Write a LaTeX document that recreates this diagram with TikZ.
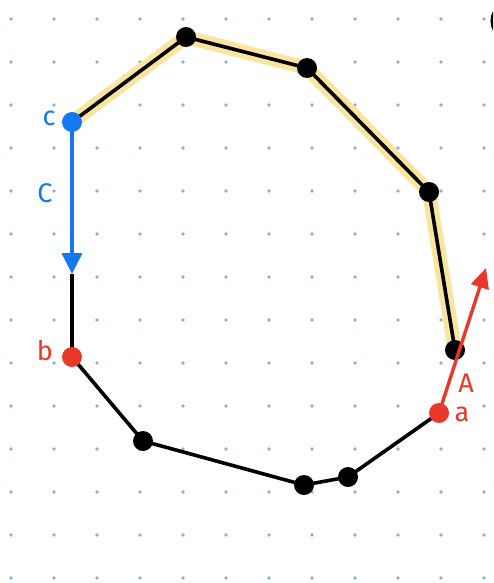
\documentclass[tikz,border=0pt]{standalone}
\usepackage{fontspec}
\setmainfont{Fira Sans}
\usetikzlibrary{arrows.meta}
\definecolor{gridc}{RGB}{150,170,212}
\definecolor{hlc}{RGB}{250,228,160}
\definecolor{bluec}{RGB}{22,120,240}
\definecolor{redc}{RGB}{232,56,40}
\tikzset{
  vtx/.style={circle,fill=black,inner sep=0pt,minimum size=20pt},
  bvtx/.style={circle,fill=bluec,inner sep=0pt,minimum size=20pt},
  rvtx/.style={circle,fill=redc,inner sep=0pt,minimum size=20pt},
  edge/.style={line width=3.6pt,black},
  hl/.style={line width=14pt,hlc,line join=round,line cap=round},
  lbl/.style={font=\fontsize{27}{27}\selectfont,inner sep=0pt},
}
\begin{document}
\begin{tikzpicture}[x=1pt,y=-1pt]
\useasboundingbox (0,0) rectangle (493,583);
\clip (0,0) rectangle (493,583);
% dot grid
\foreach \i in {0,...,11}{
  \foreach \j in {0,...,13}{
    \fill[gridc] (11+43*\i,19+43*\j) circle (1.9pt);
  }
}
% vertices (coordinates)
\coordinate (c) at (72,122);
\coordinate (v1) at (186,37);
\coordinate (v2) at (307,68);
\coordinate (v3) at (429,192);
\coordinate (v4) at (455,350);
\coordinate (a) at (439,413);
\coordinate (v5) at (348,477);
\coordinate (v6) at (304,485);
\coordinate (v7) at (143,441);
\coordinate (b) at (72,357);
\coordinate (ctip) at (72,274);
\coordinate (atip) at (486,268);
% highlight
\draw[hl] (c) -- (v1) -- (v2) -- (v3) -- (v4);
% edges
\draw[edge] (c) -- (v1);
\draw[edge] (v1) -- (v2);
\draw[edge] (v2) -- (v3);
\draw[edge] (v3) -- (v4);
\draw[edge] (a) -- (v5);
\draw[edge] (v5) -- (v6);
\draw[edge] (v6) -- (v7);
\draw[edge] (v7) -- (b);
\draw[edge] (ctip) -- (b);
% vertex nodes
\node[vtx] (n1) at (v1) {};
\node[vtx] (n2) at (v2) {};
\node[vtx] (n3) at (v3) {};
\node[vtx] (n4) at (v4) {};
\node[vtx] (n5) at (v5) {};
\node[vtx] (n6) at (v6) {};
\node[vtx] (n7) at (v7) {};
% blue vector C
\draw[bluec,line width=3.8pt,-{Triangle[length=21pt,width=20pt]}] (c) -- (ctip);
\node[bvtx] (nc) at (c) {};
% red vector A
\draw[redc,line width=3.4pt,-{Triangle[length=20pt,width=18pt]}] (a) -- (atip);
\node[rvtx] (nb) at (b) {};
\node[rvtx] (na) at (a) {};
% labels
\node[lbl,text=bluec] (lc) at (49,118) {c};
\node[lbl,text=bluec] (lC) at (45,193) {C};
\node[lbl,text=redc] (lb) at (45,351) {b};
\node[lbl,text=redc] (lA) at (466,383) {A};
\node[lbl,text=redc] (la) at (462,414) {a};
% cropped shape at top right edge
\draw[black,line width=3pt] (500,21) ellipse (8pt and 13pt);
\end{tikzpicture}
\end{document}
